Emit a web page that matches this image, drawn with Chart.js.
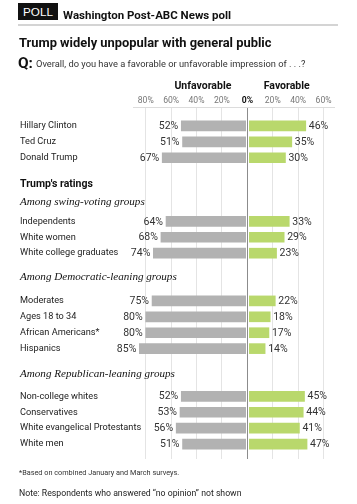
<!DOCTYPE html>
<html>
<head>
<meta charset="utf-8">
<script src="https://cdn.jsdelivr.net/npm/chart.js@4/dist/chart.umd.min.js"></script>
<style>
  html, body { margin:0; padding:0; background:#fff; }
  body { width:357px; height:504px; position:relative; overflow:hidden; font-family:Roboto,"Liberation Sans",sans-serif; color:#111; }
  #wrap { position:absolute; left:0; top:0; width:357px; height:504px; }
  .t { position:absolute; white-space:nowrap; }
</style>
</head>
<body>
<div id="wrap"><canvas id="c" width="357" height="504"></canvas></div>
<div class="t" id="poll" style="left:18px;top:3px;width:40px;height:17px;background:#111;color:#fff;line-height:17px;text-align:center;">POLL</div>
<div class="t" id="src" style="left:63px;top:6px;font-weight:bold;line-height:18px;">Washington Post-ABC News poll</div>
<div class="t" style="left:18px;top:24px;width:320px;height:2px;background:#d4d4d4;"></div>
<div class="t" id="title" style="left:19px;top:33px;font-weight:bold;line-height:20px;">Trump widely unpopular with general public</div>
<div class="t" id="q" style="left:18px;top:53px;font-weight:bold;line-height:20px;">Q:</div>
<div class="t" id="question" style="left:36px;top:57px;line-height:14px;color:#333;">Overall, do you have a favorable or unfavorable impression of . . .?</div>
<div class="t" id="foot" style="left:19px;top:467px;line-height:12px;color:#333;">*Based on combined January and March surveys.</div>
<div class="t" id="note" style="left:19px;top:486px;line-height:14px;color:#222;">Note: Respondents who answered “no opinion” not shown</div>
<script>
const categories = [
  "Hillary Clinton", "Ted Cruz", "Donald Trump",
  "", "", "",
  "Independents", "White women", "White college graduates",
  "", "",
  "Moderates", "Ages 18 to 34", "African Americans*", "Hispanics",
  "", "",
  "Non-college whites", "Conservatives", "White evangelical Protestants", "White men"
];
const unfavorable = [52, 51, 67, null, null, null, 64, 68, 74, null, null, 75, 80, 80, 85, null, null, 52, 53, 56, 51];
const favorable   = [46, 35, 30, null, null, null, 33, 29, 23, null, null, 22, 18, 17, 14, null, null, 45, 44, 41, 47];
const tickValues = [-80, -60, -40, -20, 0, 20, 40, 60];
const sectionHeaders = ["Trump's ratings", "Among swing-voting groups", "Among Democratic-leaning groups", "Among Republican-leaning groups"];
const seriesNames = ["Unfavorable", "Favorable"];

const SANS = 'Roboto,"Liberation Sans",sans-serif';
const SERIF = '"Liberation Serif","DejaVu Serif",serif';

// font size fitted so a sample string reaches the width it has in the reference
const mctx = document.createElement('canvas').getContext('2d');
function fit(text, target, weight, style, family) {
  mctx.font = (style || 'normal') + ' ' + (weight || 'normal') + ' 100px ' + (family || SANS);
  return Math.round(100 * target / mctx.measureText(text).width * 10) / 10;
}
const fs = {
  label: fit("White evangelical Protestants", 121),
  value: fit("52%", 19.5),
  tick: fit("80%", 16),
  series: fit("Unfavorable", 57, 'bold'),
  bold: fit("Trump's ratings", 73, 'bold'),
  italic: fit("Among Democratic-leaning groups", 157, 'normal', 'italic', SERIF)
};
function setHtml(id, target, weight, family) {
  const el = document.getElementById(id);
  el.style.fontSize = fit(el.textContent, target, weight, 'normal', family) + 'px';
  if (family) el.style.fontFamily = family;
}
setHtml('poll', 30, 'normal', '"Liberation Sans",sans-serif');
setHtml('src', 168, 'bold');
setHtml('title', 253, 'bold');
setHtml('q', 15, 'bold');
setHtml('question', 269, 'normal');
setHtml('foot', 160, 'normal');
setHtml('note', 223, 'normal');

const headerSlots = [3.7, 4.8, 9.5, 15.6];
const seriesTitleAt = [-35, 31];

function setTicks(scale) { scale.ticks = tickValues.map(v => ({ value: v })); }
function gridColor(ctx) { return ctx.tick && ctx.tick.value === 0 ? '#8c8c8c' : '#e4e4e4'; }

const decor = {
  id: 'decor',
  afterDatasetsDraw(chart) {
    const { ctx, chartArea } = chart;
    const x = chart.scales.x, y = chart.scales.y;
    ctx.save();
    ctx.strokeStyle = '#dcdcdc'; ctx.lineWidth = 1;
    ctx.beginPath(); ctx.moveTo(chartArea.left, chartArea.top - 10.5); ctx.lineTo(chartArea.right, chartArea.top - 10.5); ctx.stroke();
    const zx = Math.round(x.getPixelForValue(0)) + 0.5;
    ctx.strokeStyle = '#fff'; ctx.lineWidth = 3;
    ctx.beginPath(); ctx.moveTo(zx, chartArea.top); ctx.lineTo(zx, chartArea.bottom); ctx.stroke();
    ctx.strokeStyle = '#8c8c8c'; ctx.lineWidth = 1;
    ctx.beginPath(); ctx.moveTo(zx, chartArea.top - 9); ctx.lineTo(zx, chartArea.bottom + 7); ctx.stroke();
    ctx.font = fs.value + 'px ' + SANS; ctx.fillStyle = '#333'; ctx.textBaseline = 'middle';
    chart.data.datasets.forEach((ds, di) => {
      const meta = chart.getDatasetMeta(di);
      meta.data.forEach((el, i) => {
        const v = ds.data[i];
        if (v === null || v === undefined) return;
        const txt = Math.abs(v) + '%';
        if (v < 0) { ctx.textAlign = 'right'; ctx.fillText(txt, el.x - 3, el.y + 0.5); }
        else { ctx.textAlign = 'left'; ctx.fillText(txt, el.x + 3, el.y + 0.5); }
      });
    });
    ctx.fillStyle = '#111'; ctx.textAlign = 'left';
    sectionHeaders.forEach((h, i) => {
      ctx.font = i === 0 ? ('bold ' + fs.bold + 'px ' + SANS) : ('italic ' + fs.italic + 'px ' + SERIF);
      ctx.fillText(h, 20, y.getPixelForValue(headerSlots[i]));
    });
    ctx.font = 'bold ' + fs.series + 'px ' + SANS; ctx.textAlign = 'center';
    seriesNames.forEach((n, i) => ctx.fillText(n, x.getPixelForValue(seriesTitleAt[i]), chartArea.top - 32));
    ctx.restore();
  }
};

const Y_AXIS_W = 113;
new Chart(document.getElementById('c'), {
  type: 'bar',
  data: {
    labels: categories,
    datasets: [
      { label: seriesNames[0], data: unfavorable.map(v => v === null ? null : -v), backgroundColor: '#b2b2b2', grouped: false, barThickness: 10 },
      { label: seriesNames[1], data: favorable, backgroundColor: '#b9d86c', grouped: false, barThickness: 10 }
    ]
  },
  options: {
    indexAxis: 'y',
    responsive: false,
    animation: false,
    devicePixelRatio: 1,
    layout: { padding: { top: 78, bottom: 45, left: 20, right: 22 } },
    plugins: { legend: { display: false }, tooltip: { enabled: false } },
    scales: {
      x: {
        type: 'linear', position: 'top', min: -90, max: 69,
        afterBuildTicks: setTicks,
        afterFit(s) { s.height = 40; },
        border: { display: false },
        grid: { color: gridColor, tickLength: 10, drawTicks: true },
        ticks: {
          padding: 2,
          callback: v => Math.abs(v) + '%',
          font: ctx => ({ family: SANS, size: fs.tick, weight: ctx.tick && ctx.tick.value === 0 ? 'bold' : 'normal' }),
          color: ctx => ctx.tick && ctx.tick.value === 0 ? '#111' : '#777',
          maxRotation: 0, autoSkip: false
        }
      },
      x2: {
        type: 'linear', position: 'bottom', min: -90, max: 69,
        afterBuildTicks: setTicks,
        afterFit(s) { s.height = 7; },
        border: { display: false },
        grid: { color: gridColor, tickLength: 7, drawTicks: true, drawOnChartArea: false },
        ticks: { display: false }
      },
      y: {
        type: 'category',
        afterFit(s) { s.width = Y_AXIS_W; },
        border: { display: false },
        grid: { display: false },
        ticks: { mirror: true, crossAlign: 'near', padding: -Y_AXIS_W, autoSkip: false, color: '#222', font: { family: SANS, size: fs.label } }
      }
    }
  },
  plugins: [decor]
});
</script>
</body>
</html>
